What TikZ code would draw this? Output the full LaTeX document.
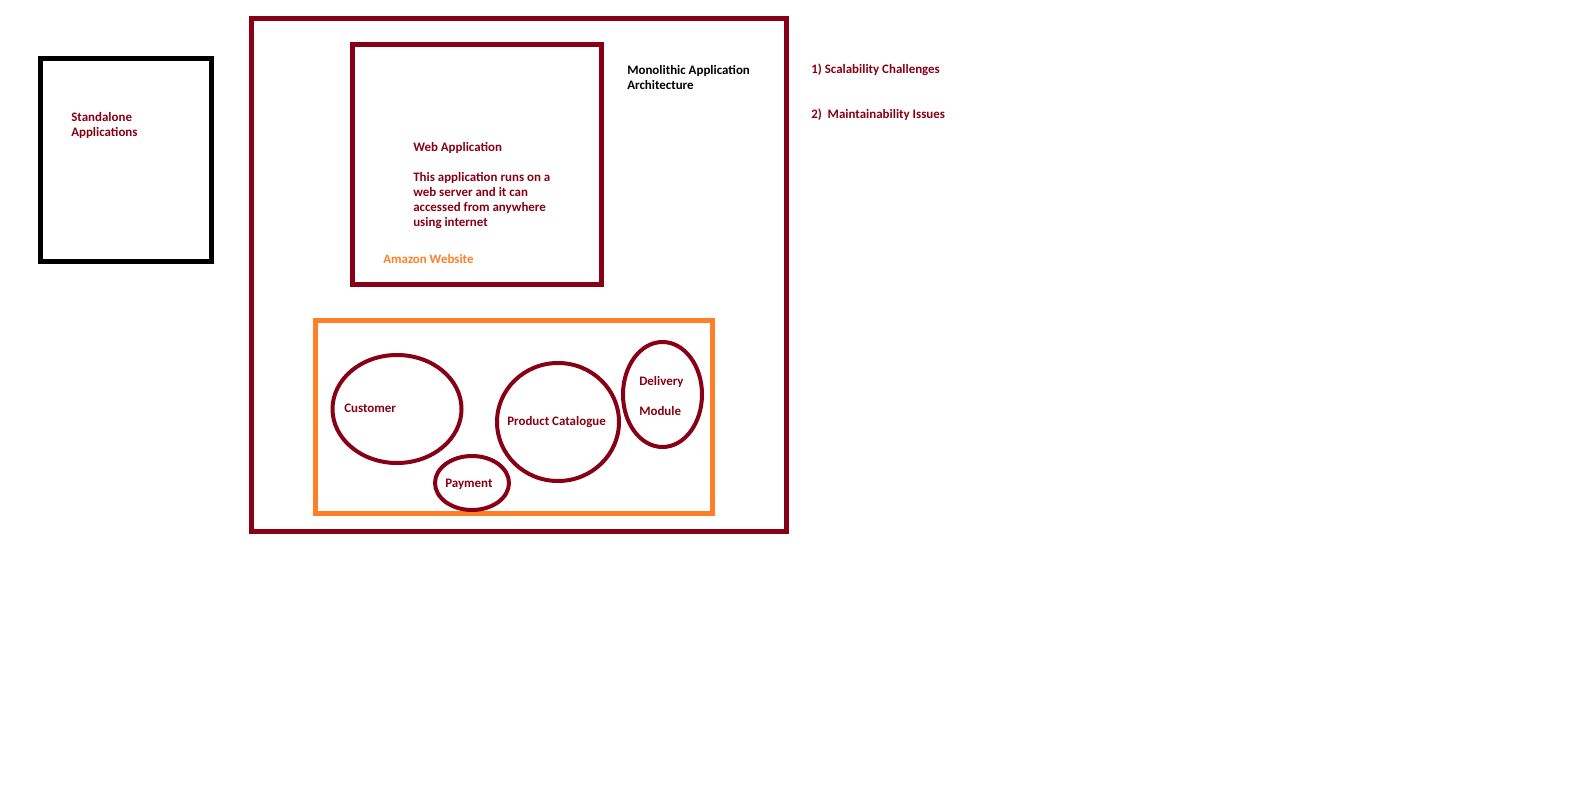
\documentclass[tikz,border=0pt]{standalone}
\usepackage{fontspec}
\setmainfont{Carlito}
\definecolor{paintred}{HTML}{880015}
\definecolor{paintorange}{HTML}{FF7F27}
\tikzset{
  lbl/.style={anchor=base west, inner sep=0pt, align=left, text=paintred,
    font=\bfseries\fontsize{9.7}{11.25}\selectfont},
  frame/.style={line width=3.75pt},
  blob/.style={line width=3pt, draw=paintred}
}

\begin{document}
\begin{tikzpicture}[x=0.75pt,y=-0.75pt]
  \useasboundingbox (0,0) rectangle (1570,788);
  \fill[white] (0,0) rectangle (1570,788);

  % standalone
  \draw[frame, draw=black] (40.5,58.5) rectangle (211.5,261.5);
  \node[lbl] (standalone) at (71,136.5) {Standalone\\Applications};

  % monolith
  \draw[frame, draw=paintred] (251.5,18.5) rectangle (786.5,531.5);
  \node[lbl, text=black] (monolith) at (627,89.3) {Monolithic Application\\Architecture};

  \draw[frame, draw=paintred] (352.5,44.5) rectangle (601.5,284.5);
  \node[lbl] (webapp) at (413,226.5) {Web Application\\[11.25pt]This application runs on a\\web server and it can\\accessed from anywhere\\using internet};
  \node[lbl, text=paintorange] (amazon) at (383,263.2) {Amazon Website};

  % modules
  \draw[frame, draw=paintorange] (315.5,320.5) rectangle (712.5,513.5);
  \draw[blob] (397,409) ellipse [x radius=64.5, y radius=54];
  \draw[blob] (472,483) ellipse [x radius=37, y radius=27];
  \draw[blob] (558,422) ellipse [x radius=61, y radius=59];
  \draw[blob] (662.5,394.5) ellipse [x radius=39.5, y radius=52.5];
  \node[lbl] (customer) at (344,412.7) {Customer};
  \node[lbl] (payment) at (445,487.7) {Payment};
  \node[lbl] (catalogue) at (507,425.3) {Product Catalogue};
  \node[lbl] (delivery) at (639,385.5) {Delivery};
  \node[lbl] (module) at (639,415.3) {Module};

  % issues
  \node[lbl] (scale) at (811,73.5) {1) Scalability Challenges};
  \node[lbl] (maintain) at (811,118.2) {2)\ \ Maintainability Issues};
\end{tikzpicture}
\end{document}
